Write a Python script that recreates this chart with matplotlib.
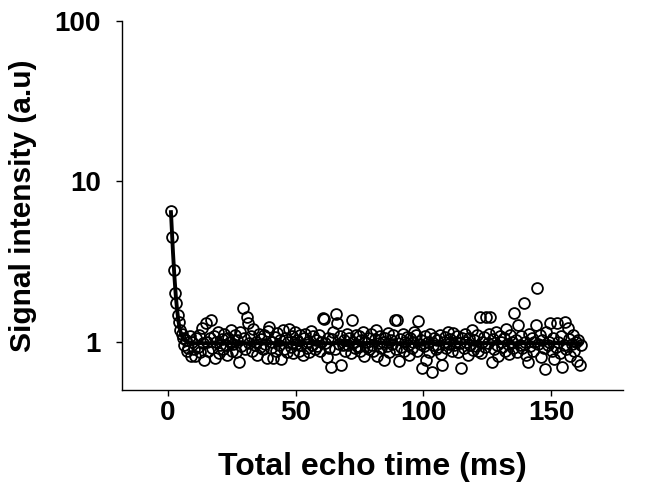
import numpy as np
import matplotlib
matplotlib.use("Agg")
import matplotlib.pyplot as plt

# ---- data ----
first_echo_ms = 1.2
echo_spacing_ms = 0.521
signal = [
    6.5, 4.5, 2.8, 2.02, 1.75, 1.47, 1.33, 1.18, 1.12, 1.05,
    0.95, 1.02, 0.87, 0.92, 1.08, 0.82, 1.0, 0.9, 0.81, 1.05,
    0.93, 1.1, 0.86, 1.22, 0.98, 0.77, 1.31, 1.0, 0.88, 1.05,
    1.37, 0.92, 1.08, 0.79, 1.0, 1.15, 0.85, 0.96, 1.04, 0.9,
    1.12, 0.95, 0.83, 1.06, 1.0, 1.18, 0.88, 0.97, 1.1, 0.86,
    1.02, 0.75, 1.15, 0.94, 1.63, 1.05, 0.9, 1.43, 1.3, 0.98,
    1.08, 0.87, 1.2, 0.95, 1.0, 0.83, 1.12, 0.93, 1.04, 0.9,
    1.1, 0.97, 0.79, 1.16, 1.24, 0.92, 1.0, 0.79, 1.07, 0.88,
    1.13, 0.95, 1.02, 0.78, 1.18, 0.9, 1.05, 0.86, 1.0, 1.2,
    0.93, 1.08, 0.85, 1.15, 0.97, 1.03, 0.88, 1.1, 0.95, 0.83,
    1.05, 1.12, 0.92, 1.0, 0.86, 1.17, 0.96, 1.08, 0.9, 1.02,
    0.94, 1.1, 0.87, 1.0, 1.41, 1.38, 0.98, 0.8, 1.06, 0.92,
    0.7, 1.04, 1.15, 0.9, 1.49, 1.3, 0.97, 1.08, 0.72, 0.95,
    1.02, 0.88, 1.12, 0.96, 1.05, 0.85, 1.37, 1.0, 0.92, 1.1,
    0.94, 1.08, 0.87, 1.02, 1.15, 0.81, 1.0, 0.93, 1.06, 0.9,
    1.12, 0.96, 0.88, 1.04, 1.18, 0.82, 0.98, 1.09, 0.92, 1.0,
    0.77, 1.06, 0.94, 1.13, 0.86, 1.02, 0.97, 1.1, 1.37, 0.9,
    1.37, 0.76, 1.04, 0.93, 1.12, 0.87, 1.0, 1.07, 0.95, 0.83,
    1.05, 0.92, 1.0, 1.15, 1.1, 0.88, 1.35, 0.97, 1.03, 0.69,
    0.94, 1.08, 0.77, 1.0, 0.86, 1.12, 0.65, 0.96, 1.05, 0.9,
    1.02, 0.93, 1.1, 0.84, 0.72, 1.0, 1.07, 0.91, 1.15, 0.97,
    1.04, 0.88, 1.14, 0.95, 1.0, 1.09, 0.86, 0.98, 0.69, 1.06,
    0.92, 1.12, 1.0, 0.83, 1.05, 0.96, 1.18, 0.89, 1.02, 0.94,
    1.1, 0.87, 1.43, 0.85, 1.0, 1.07, 0.93, 1.43, 0.98, 1.12,
    1.43, 0.75, 1.04, 0.9, 1.15, 0.96, 0.82, 1.08, 1.0, 0.93,
    1.06, 0.88, 1.2, 0.97, 0.84, 1.1, 1.0, 0.91, 1.52, 1.03,
    0.86, 1.28, 0.95, 1.08, 0.92, 1.75, 1.0, 0.83, 0.75, 1.12,
    0.94, 1.05, 0.88, 1.0, 1.28, 2.17, 0.97, 1.1, 0.8, 1.02,
    0.91, 0.68, 1.15, 0.95, 1.0, 1.31, 0.87, 1.06, 0.78, 0.93,
    1.31, 1.0, 0.85, 1.08, 0.7, 0.96, 1.33, 0.9, 1.22, 1.04,
    0.82, 0.97, 1.1, 0.88, 1.0, 0.76, 1.03, 0.72, 0.95,
]
echo_time = first_echo_ms + np.arange(len(signal)) * echo_spacing_ms

# mono-exponential fit with offset (parameters estimated from the plot)
fit_amplitude = 16.4
fit_t2_ms = 1.09
fit_offset = 0.98

x_ticks = [0, 50, 100, 150]
y_ticks = [1, 10, 100]
y_tick_labels = ["1", "10", "100"]
x_label = "Total echo time (ms)"
y_label = "Signal intensity (a.u)"

# ---- plot ----
plt.rcParams["font.family"] = ["Liberation Sans", "DejaVu Sans"]
fig = plt.figure(figsize=(6.45, 4.9), dpi=100)
ax = fig.add_axes([0.189, 0.204, 0.777, 0.753])

ax.plot(echo_time, signal, linestyle="none", marker="o", markersize=7.8,
        markerfacecolor="none", markeredgecolor="black", markeredgewidth=1.3,
        zorder=2)

t_fit = np.linspace(echo_time[0], echo_time[-1], 600)
s_fit = fit_amplitude * np.exp(-t_fit / fit_t2_ms) + fit_offset
ax.plot(t_fit, s_fit, color="black", linewidth=2.8, zorder=3)

ax.set_yscale("log")
ax.set_ylim(0.5, 100)
ax.set_xlim(-18.0, 178.2)
ax.set_xticks(x_ticks)
ax.set_yticks(y_ticks)
ax.set_yticklabels(y_tick_labels)
ax.yaxis.set_minor_locator(matplotlib.ticker.NullLocator())

for s in ["top", "right"]:
    ax.spines[s].set_visible(False)
for s in ["left", "bottom"]:
    ax.spines[s].set_linewidth(1.0)

ax.tick_params(axis="both", direction="out", length=4, width=1.0,
               labelsize=20)
ax.tick_params(axis="x", pad=3)
ax.tick_params(axis="y", pad=11)
for lbl in ax.get_xticklabels() + ax.get_yticklabels():
    lbl.set_fontweight("bold")

ax.set_xlabel(x_label, fontsize=23, fontweight="bold")
ax.set_ylabel(y_label, fontsize=21.5, fontweight="bold")
ax.xaxis.set_label_coords(0.5, -0.209)
ax.yaxis.set_label_coords(-0.198, 0.5)
ax.xaxis.label.set_verticalalignment("center")
ax.yaxis.label.set_verticalalignment("center")

fig.savefig("out.png", dpi=100)
